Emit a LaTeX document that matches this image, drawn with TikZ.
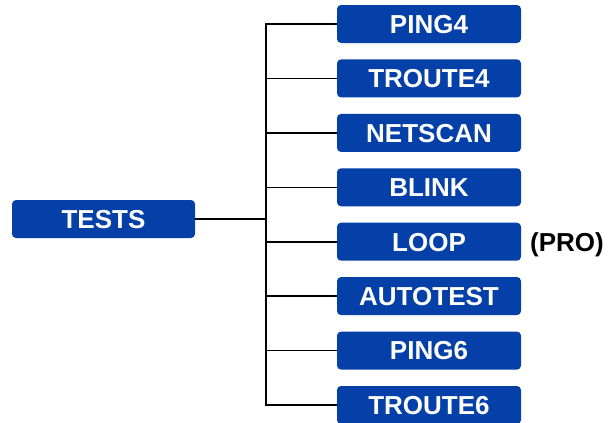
\documentclass[tikz,border=0pt]{standalone}
\usepackage{fontspec}
\setmainfont{Liberation Sans}
\definecolor{testblue}{RGB}{4,64,168}
\begin{document}
\begin{tikzpicture}[x=1pt,y=-1pt,inner sep=0pt,outer sep=0pt,line width=1.6pt,
testbox/.style={fill=testblue,rectangle,rounded corners=4pt,minimum width=184pt,minimum height=38pt,text=white,font=\bfseries\fontsize{26}{26}\selectfont,text height=18.6pt,text depth=0pt},
protext/.style={font=\bfseries\fontsize{26}{26}\selectfont,text height=18.6pt,text depth=0pt}]
\useasboundingbox (0,0) rectangle (614,423);

\draw (103.5,219) node[testbox,minimum width=183pt] (tests) {TESTS};
\coordinate (bus) at (266,219);

\draw (429,24) node[testbox] (ping4) {PING4};
\draw (429,78.4) node[testbox] (troute4) {TROUTE4};
\draw (429,132.9) node[testbox] (netscan) {NETSCAN};
\draw (429,187.3) node[testbox] (blink) {BLINK};
\draw (429,241.7) node[testbox] (loop) {LOOP};
\draw (429,296.1) node[testbox] (autotest) {AUTOTEST};
\draw (429,350.6) node[testbox] (ping6) {PING6};
\draw (429,405) node[testbox] (troute6) {TROUTE6};
\draw (567,242) node[protext] (pro) {(PRO)};

\draw (tests.east) -- (bus);
\draw (bus) |- (ping4.west);
\draw (bus) |- (troute4.west);
\draw (bus) |- (netscan.west);
\draw (bus) |- (blink.west);
\draw (bus) |- (loop.west);
\draw (bus) |- (autotest.west);
\draw (bus) |- (ping6.west);
\draw (bus) |- (troute6.west);
\end{tikzpicture}
\end{document}
